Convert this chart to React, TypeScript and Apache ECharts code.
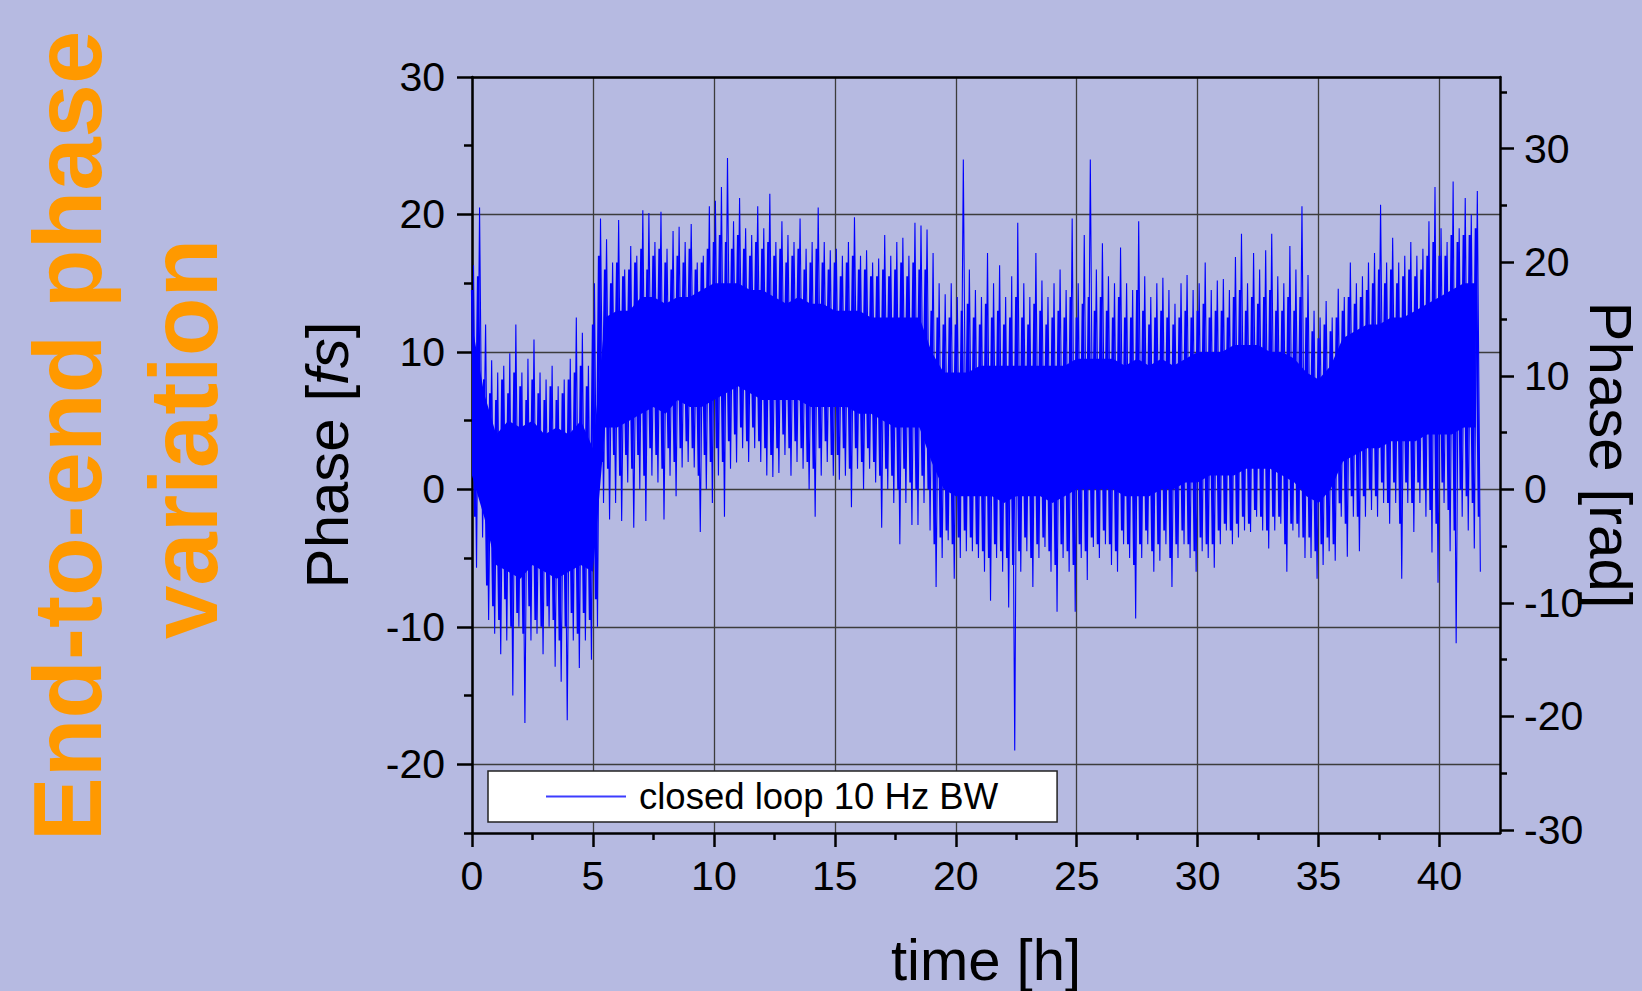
import React, { useEffect, useRef } from "react";
import * as echarts from "echarts";

const FONT = "'Liberation Sans', Arial, Helvetica, sans-serif";

// Axis ranges & ticks
const X_MIN = 0;
const X_MAX = 42.5;
const FS_MIN = -25;
const FS_MAX = 30;
const RAD_MIN = -30.26;
const RAD_MAX = 36.31;
const xTicks = [0, 5, 10, 15, 20, 25, 30, 35, 40];
const xMinorTicks = [2.5, 7.5, 12.5, 17.5, 22.5, 27.5, 32.5, 37.5];
const fsTicks = [-20, -10, 0, 10, 20, 30];
const fsMinorTicks = [-25, -15, -5, 5, 15, 25];
const radTicks = [-30, -20, -10, 0, 10, 20, 30];
const radMinorTicks = [-25, -15, -5, 5, 15, 25, 35];

// Signal, per 0.25 h bin [fs]
const BIN = 0.25;
// highest spike in each bin
const peakHi = [
  16.3, 20.5, 12, 9.4, 8.5, 9, 9.9, 12, 8.5, 9.5, 10.9, 8.5, 8, 9, 7.5, 8, 9.5, 12.5, 11.4, 9,
  15, 19.7, 18.2, 16.5, 19.6, 16, 17.7, 17, 20.3, 20.1, 18, 20.2, 17.5, 18.8, 19.1, 18, 19.3, 16.5, 17, 20.6,
  21, 22, 24.1, 19.5, 21.2, 19, 18.5, 20.6, 19, 21.5, 18, 19.5, 18.5, 18, 19.7, 17.5, 18, 20.5, 18, 17.4,
  17.5, 17, 18, 19.8, 17, 17.4, 16.5, 16.8, 18.5, 17, 18, 18.3, 17, 19.4, 19.2, 18.9, 17.2, 15, 14.2, 15,
  14, 24, 16, 14.5, 14, 17.2, 15, 16.3, 14, 15.5, 19.4, 15, 14, 17.2, 15.2, 14, 15, 16, 14.5, 19.7,
  15, 18.5, 24, 16, 17.9, 15.5, 15, 17.6, 15, 14.5, 19.5, 15.5, 14, 15, 15.4, 14.5, 13.5, 15, 15.6, 14.5,
  15, 16.5, 14.5, 15.2, 15.3, 14.5, 16.9, 18.6, 15, 17.2, 16, 17.4, 18.6, 15.5, 15, 17.7, 16, 20.6, 15.6, 13,
  12.5, 13.7, 12.5, 14.6, 14, 16.5, 15, 15.5, 16.5, 17.2, 20.7, 16.5, 18.3, 16.5, 17, 18, 17, 17.5, 19.5, 22,
  19, 18, 22.4, 19, 21.2, 20, 21.7,
];
// lowest spike in each bin
const peakLo = [
  -5.7, -3.5, -9.5, -10.5, -12, -11, -15, -10, -17, -11, -10.5, -12, -10, -12.9, -14, -16.8, -11, -13, -11, -12.4,
  -10, -1, -2.2, -1, -2.3, 0.5, -2.8, 0, -2.3, 1, 0.5, -2.2, 1, -0.5, 1.6, 2, 1.6, -3.1, 0, -1,
  1, -2, 1.5, 1.95, 3, 2, 3, 2, 1, 0.9, 1.2, 2.5, 1, 2, 1.5, 0, -2, 1, 2, 1,
  0.7, 1, -1.3, 1.5, 0, 1.5, 0.5, -2.8, 0, -1, -4, -1, -2.6, -2.6, -1, -3, -7.1, -5, -3.7, -6.5,
  -5, -4.5, -4.5, -5, -6, -8.1, -5, -6, -8.6, -19, -6, -4.5, -7.1, -5, -4.2, -6, -8.9, -5, -6, -8.9,
  -5, -6.6, -4.2, -5, -4, -5.5, -6, -4, -5, -9.4, -5, -4, -6, -5.2, -4, -7.1, -5, -4, -5, -6,
  -4.5, -5, -5.7, -4, -3, -4, -3.5, -3, -3.1, -2, -3, -4.3, -3, -2.5, -6, -3, -3.5, -5, -5, -6.5,
  -5.5, -4.5, -5.2, -2, -4.9, -2, -4.5, -2, -1.5, -2, -1, -2.5, -1, -6.5, -1, -3.1, -1, -2, -4.6, -6.8,
  -1, -4.5, -11.2, -2, -3, -4.3, -6,
];
// typical (smaller) upward excursion in each bin
const midHi = [
  14.5, 15.5, 8, 7, 6.5, 8, 7, 8.5, 7.5, 6.5, 8, 7, 6.5, 7.5, 6.5, 7, 8, 8.5, 9, 7.5,
  12, 17, 16, 15, 16.5, 15.5, 16, 16.5, 17.5, 16, 17, 17.5, 16.5, 16, 17, 16.5, 17.5, 16, 16.5, 17.5,
  18, 18.5, 18, 17.5, 18.5, 17.5, 17, 18, 17.5, 18, 17, 17.5, 16.5, 17, 17.5, 16, 16.5, 17.5, 16.5, 16,
  16.5, 15.5, 16.5, 17, 16, 16, 15.5, 15.5, 16, 15.5, 16, 16.5, 15.5, 16.5, 16, 16, 13, 12.5, 12, 12.5,
  12, 13, 13.5, 12.5, 12, 13.5, 12.5, 13, 12, 12.5, 14, 12.5, 12, 13.5, 13, 12, 12.5, 13, 12.5, 14,
  12.5, 13.5, 14, 13, 14, 13, 12.5, 14, 12.5, 12.5, 14.5, 13, 12, 12.5, 13, 12.5, 12, 12.5, 13, 12.5,
  13, 13.5, 12.5, 13, 13, 12.5, 14, 14.5, 13, 14, 13.5, 14, 14.5, 13, 13, 14, 13, 14, 12.5, 11.5,
  11, 12, 11.5, 12.5, 13, 14, 13.5, 14, 14.5, 15, 16, 15, 16, 15, 15.5, 16, 15.5, 16, 17, 18,
  17, 17, 18.5, 18, 18.5, 18.5, 19,
];
// typical (smaller) downward excursion in each bin
const midLo = [
  -2, 0, -7, -8.5, -9.5, -8, -10, -9, -10.5, -8.5, -9.5, -10, -8.5, -9.5, -11, -10, -9, -10.5, -9, -9.5,
  -8, 2, 1.5, 2.5, 1, 2.5, 1.5, 2.5, 1, 3, 2.5, 1.5, 3, 2, 3, 3.5, 3, 1, 2.5, 2,
  3, 2, 3.5, 4, 4.5, 3.5, 4.5, 3.5, 3, 2.5, 3, 4, 3, 3.5, 3, 2, 1.5, 3, 3.5, 2.5,
  2.5, 3, 1.5, 3, 2, 3, 2, 1, 1.5, 1, 0, 1.5, 0.5, 0, 1, 0, -4, -3.5, -3, -4,
  -3.5, -3, -3.5, -4, -4.5, -5, -4, -4.5, -5, -5.5, -4.5, -3.5, -5, -4, -3.5, -4.5, -5.5, -4, -4.5, -5.5,
  -4, -4.5, -3.5, -4, -3, -4, -4.5, -3, -4, -5.5, -4, -3, -4.5, -4, -3, -5, -4, -3, -4, -4.5,
  -3.5, -4, -4, -3, -2.5, -3, -2.5, -2, -2.5, -1.5, -2, -3, -2, -2, -4, -2.5, -2.5, -3.5, -3.5, -4.5,
  -4, -3.5, -4, -1, -2.5, -0.5, -2, -0.5, 0, -0.5, 0.5, -1, 0.5, -2.5, 0.5, -1, 0.5, 0, -1.5, -2.5,
  0.5, -1.5, -3, 0, -0.5, -1, -2,
];

// Solid core of the trace, per 0.5 h [fs]
const CORE_STEP = 0.5;
const coreHi = [
  12, 7, 4, 5, 4.5, 5, 4, 4.5, 4, 5, 3, 12.5, 13, 13, 14, 14, 13.5, 14, 14, 14.5,
  15, 15, 15, 14.5, 14.5, 14, 13.5, 14, 13.5, 13.5, 13, 13, 13, 12.5, 12.5, 12.5, 12.5, 12.5, 10, 8.5,
  8.5, 8.5, 9, 9, 9, 9, 9, 9, 9, 9, 9.5, 9.5, 9.5, 9.5, 9, 9.5, 9, 9.5, 9, 9.5,
  10, 10, 10, 10.5, 10.5, 10.5, 10, 10, 9.5, 8.5, 8, 9, 11, 11.5, 12, 12, 12.5, 12.5, 13, 13.5,
  14, 14.5, 15, 15,
];
const coreLo = [
  1, -2, -5.5, -6, -6.5, -5.5, -6, -6.5, -6, -5.5, -6, 4.5, 4.5, 5, 5.5, 6, 5.5, 6.5, 6, 6,
  6.5, 7, 7.5, 7, 6.5, 6.5, 6.5, 6.5, 6, 6, 6, 6, 5.5, 5.5, 5, 4.5, 4.5, 4.5, 2, 0,
  -0.5, -0.5, -0.5, -0.5, -1, -0.5, -0.5, -0.5, -1, -0.5, 0, 0, 0, 0, -0.5, -0.5, -0.5, 0, 0, 0.5,
  0.5, 1, 1, 1, 1.5, 1.5, 1.5, 1, 0.5, -0.5, -1, 0, 2, 2.5, 3, 3, 3.5, 3.5, 3.5, 4,
  4, 4, 4.5, 4.5,
];

const SERIES_NAME = "closed loop 10 Hz BW";

export default function App() {
  const ref = useRef<HTMLDivElement>(null);

  useEffect(() => {
    if (!ref.current) return;
    const chart = echarts.init(ref.current, undefined, { renderer: "svg" });

    // dense part of the trace: typical excursions of each bin
    const fuzz: number[][] = [];
    midHi.forEach((hi, i) => {
      const x0 = i * BIN;
      fuzz.push([x0, hi]);
      fuzz.push([x0 + BIN * 0.5, midLo[i]]);
    });
    // thin spikes: extreme excursions of each bin
    const spikes: number[][] = [];
    peakHi.forEach((hi, i) => {
      const x0 = i * BIN;
      spikes.push([x0 + BIN * 0.25, hi]);
      spikes.push([x0 + BIN * 0.75, peakLo[i]]);
    });
    const coreData = coreHi.map((h, i) => [i * CORE_STEP, coreLo[i], h]);

    const tickStyle = { color: "#000", width: 2.5 };
    const axisLineStyle = { color: "#000", width: 2.5 };
    const labelStyle = { fontSize: 41, color: "#000", fontFamily: FONT };
    const nameStyle = { fontSize: 60, color: "#000", fontFamily: FONT };
    const gridLine = { show: true, lineStyle: { color: "#3c3c3c", width: 1.3, type: "solid" } };

    const option: any = {
      animation: false,
      backgroundColor: "transparent",
      textStyle: { fontFamily: FONT },
      grid: {
        left: 472,
        top: 77,
        width: 1028,
        height: 756,
        containLabel: false,
        outerBoundsMode: "none",
      },
      legend: {
        data: [SERIES_NAME],
        left: 488,
        top: 771,
        orient: "horizontal",
        padding: [7, 59, 7, 58],
        backgroundColor: "#ffffff",
        borderColor: "#222",
        borderWidth: 1.5,
        borderRadius: 0,
        itemWidth: 80,
        itemHeight: 2,
        icon: "rect",
        itemGap: 0,
        selectedMode: false,
        textStyle: { fontSize: 36.5, color: "#000", fontFamily: FONT, padding: [0, 0, 0, 8] },
      },
      graphic: [
        {
          type: "text",
          x: 67,
          y: 436,
          rotation: Math.PI / 2,
          silent: true,
          style: {
            text: "End-to-end phase",
            fill: "#ff9900",
            fontSize: 96,
            fontWeight: "bold",
            fontFamily: FONT,
            align: "center",
            verticalAlign: "middle",
          },
        },
        {
          type: "text",
          x: 183,
          y: 439,
          rotation: Math.PI / 2,
          silent: true,
          style: {
            text: "variation",
            fill: "#ff9900",
            fontSize: 96,
            fontWeight: "bold",
            fontFamily: FONT,
            align: "center",
            verticalAlign: "middle",
          },
        },
      ],
      xAxis: [
        {
          type: "value",
          position: "bottom",
          min: X_MIN,
          max: X_MAX,
          interval: 5,
          name: "time [h]",
          nameLocation: "middle",
          nameGap: 97,
          nameTextStyle: { ...nameStyle, fontSize: 58 },
          axisLine: { show: true, onZero: false, lineStyle: axisLineStyle },
          axisTick: { show: true, inside: false, length: 14, lineStyle: tickStyle, customValues: xTicks },
          axisLabel: { show: true, customValues: xTicks, margin: 22, ...labelStyle },
          splitLine: gridLine,
        },
        {
          type: "value",
          position: "top",
          min: X_MIN,
          max: X_MAX,
          axisLine: { show: true, onZero: false, lineStyle: axisLineStyle },
          axisTick: { show: false },
          axisLabel: { show: false },
          splitLine: { show: false },
        },
        {
          type: "value",
          position: "bottom",
          min: X_MIN,
          max: X_MAX,
          axisLine: { show: false, onZero: false },
          axisTick: { show: true, inside: false, length: 7, lineStyle: tickStyle, customValues: xMinorTicks },
          axisLabel: { show: false },
          splitLine: { show: false },
        },
      ],
      yAxis: [
        {
          type: "value",
          position: "left",
          min: FS_MIN,
          max: FS_MAX,
          name: "Phase [{i|fs}]",
          nameLocation: "middle",
          nameGap: 115,
          nameTextStyle: {
            ...nameStyle,
            rich: { i: { fontStyle: "italic", fontSize: 60, color: "#000", fontFamily: FONT } },
          },
          axisLine: { show: true, onZero: false, lineStyle: axisLineStyle },
          axisTick: { show: true, inside: false, length: 15, lineStyle: tickStyle, customValues: fsTicks },
          axisLabel: { show: true, customValues: fsTicks, margin: 27, ...labelStyle },
          splitLine: gridLine,
        },
        {
          type: "value",
          position: "left",
          min: FS_MIN,
          max: FS_MAX,
          axisLine: { show: false, onZero: false },
          axisTick: { show: true, inside: false, length: 8, lineStyle: tickStyle, customValues: fsMinorTicks },
          axisLabel: { show: false },
          splitLine: { show: false },
        },
        {
          type: "value",
          position: "right",
          min: RAD_MIN,
          max: RAD_MAX,
          name: "Phase [rad]",
          nameLocation: "middle",
          nameRotate: -90,
          nameGap: 80,
          nameMoveOverlap: false,
          nameTextStyle: nameStyle,
          axisLine: { show: true, onZero: false, lineStyle: axisLineStyle },
          axisTick: { show: true, inside: false, length: 14, lineStyle: tickStyle, customValues: radTicks },
          axisLabel: { show: true, customValues: radTicks, margin: 24, ...labelStyle },
          splitLine: { show: false },
        },
        {
          type: "value",
          position: "right",
          min: RAD_MIN,
          max: RAD_MAX,
          axisLine: { show: false, onZero: false },
          axisTick: { show: true, inside: false, length: 7, lineStyle: tickStyle, customValues: radMinorTicks },
          axisLabel: { show: false },
          splitLine: { show: false },
        },
      ],
      series: [
        {
          type: "custom",
          name: "core",
          xAxisIndex: 0,
          yAxisIndex: 0,
          silent: true,
          clip: true,
          z: 2,
          data: coreData,
          encode: { x: 0, y: [1, 2] },
          renderItem: (params: any, api: any) => {
            if (params.dataIndex !== 0) return null;
            const top = coreHi.map((v, i) => api.coord([i * CORE_STEP, v]));
            const bottom = coreLo.map((v, i) => api.coord([i * CORE_STEP, v])).reverse();
            return {
              type: "polygon",
              shape: { points: top.concat(bottom) },
              style: { fill: "#0000ff" },
            };
          },
        },
        {
          type: "line",
          name: SERIES_NAME,
          xAxisIndex: 0,
          yAxisIndex: 0,
          data: fuzz,
          showSymbol: false,
          symbol: "none",
          silent: true,
          clip: true,
          z: 3,
          lineStyle: { color: "#0000ff", width: 2.2 },
          itemStyle: { color: "#3c3cff" },
        },
        {
          type: "line",
          name: SERIES_NAME,
          xAxisIndex: 0,
          yAxisIndex: 0,
          data: spikes,
          showSymbol: false,
          symbol: "none",
          silent: true,
          clip: true,
          z: 3,
          lineStyle: { color: "#0000ff", width: 1.1 },
          itemStyle: { color: "#3c3cff" },
        },
      ],
    };

    chart.setOption(option);
    return () => chart.dispose();
  }, []);

  return (
    <div
      style={{
        position: "fixed",
        left: 0,
        top: 0,
        width: 1642,
        height: 991,
        background: "#b6bae1",
      }}
    >
      <div ref={ref} style={{ width: 1642, height: 991 }} />
    </div>
  );
}
